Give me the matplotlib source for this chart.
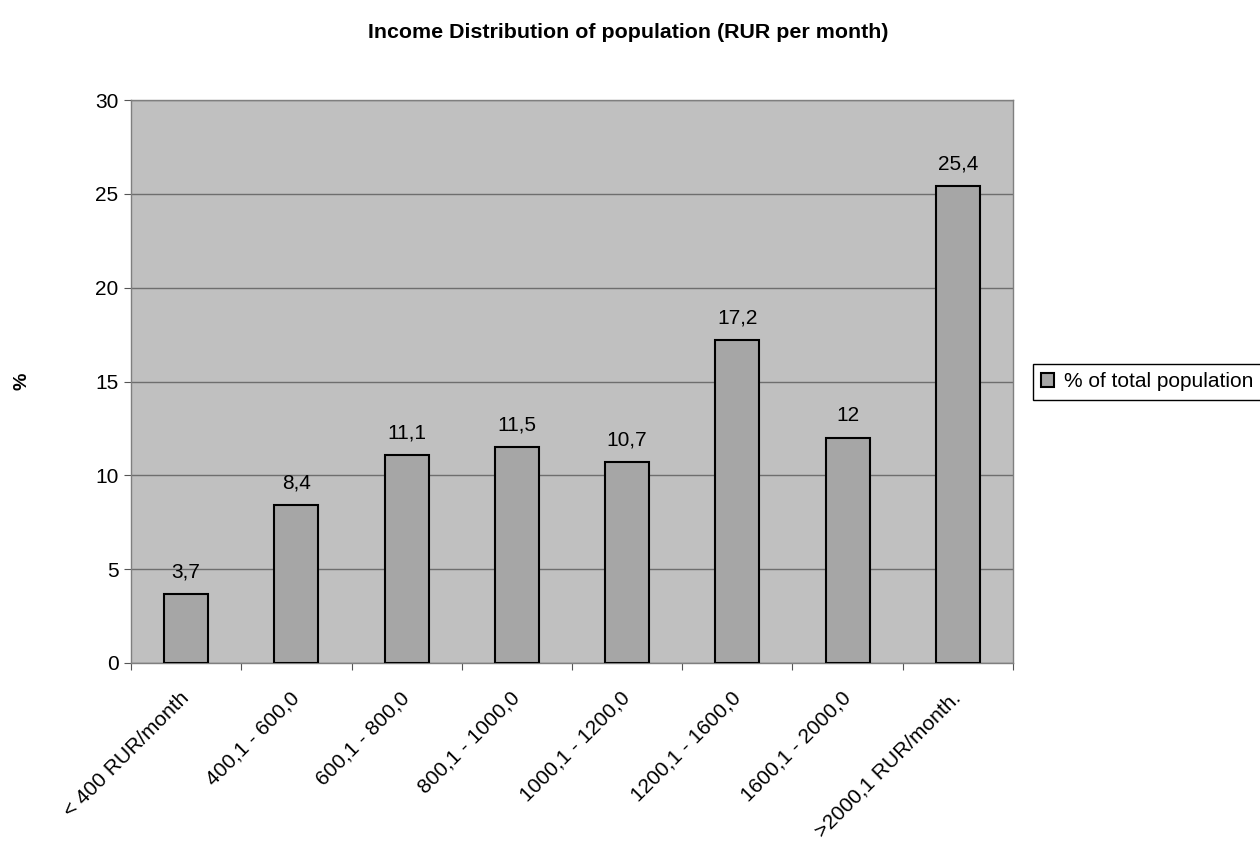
import matplotlib
matplotlib.use("Agg")
import matplotlib.pyplot as plt
from matplotlib.patches import Patch

plt.rcParams['font.family'] = ['Liberation Sans', 'DejaVu Sans']

categories = ["< 400 RUR/month", "400,1 - 600,0", "600,1 - 800,0", "800,1 - 1000,0",
              "1000,1 - 1200,0", "1200,1 - 1600,0", "1600,1 - 2000,0", ">2000,1 RUR/month."]
values = [3.7, 8.4, 11.1, 11.5, 10.7, 17.2, 12, 25.4]
value_labels = ["3,7", "8,4", "11,1", "11,5", "10,7", "17,2", "12", "25,4"]
series_name = "% of total population"

FS = 15

fig = plt.figure(figsize=(12.6, 8.41), dpi=100)
ax = fig.add_axes([131/1260, 1 - 663/841, (1013-131)/1260, (663-100)/841])
ax.set_facecolor("#C0C0C0")

x = list(range(len(categories)))
ax.bar(x, values, width=0.4, color="#A6A6A6", edgecolor="black", linewidth=1.5, zorder=3)
for xi, v, lab in zip(x, values, value_labels):
    ax.annotate(lab, (xi, v), xytext=(0, 9), textcoords="offset points",
                ha="center", va="bottom", fontsize=FS)

ax.set_xlim(-0.5, len(categories) - 0.5)
ax.set_ylim(0, 30)
ax.set_yticks(range(0, 31, 5))
ax.yaxis.grid(True, color="#6E6E6E", linewidth=1, zorder=0)
ax.set_axisbelow(True)

# category boundary ticks, labels at category centres
ax.set_xticks([i - 0.5 for i in range(len(categories) + 1)])
ax.set_xticklabels([])
ax.set_xticks(x, minor=True)
ax.set_xticklabels(categories, minor=True, rotation=45, ha="right", va="center",
                   rotation_mode="anchor", fontsize=FS)
ax.tick_params(axis="x", which="minor", length=0, pad=23)
ax.tick_params(axis="x", which="major", length=5, direction="out", color="#555555")
ax.tick_params(axis="y", length=5, color="#555555", labelsize=FS, pad=4)

for s in ax.spines.values():
    s.set_color("#7F7F7F")
    s.set_linewidth(1)

fig.text(22/1260, 1 - 381/841, "%", rotation=90, ha="center", va="center",
         fontsize=14, fontweight="bold")
fig.text(628/1260, 1 - 32/841, "Income Distribution of population (RUR per month)",
         ha="center", va="center", fontsize=15.4, fontweight="bold")

handle = Patch(facecolor="#A6A6A6", edgecolor="black", linewidth=1.5)
fig.legend([handle], [series_name], loc="upper left",
           bbox_to_anchor=(1033/1260, 1 - 364/841), fontsize=FS,
           frameon=True, fancybox=False, edgecolor="black", framealpha=1,
           handlelength=0.6, handleheight=0.6, handletextpad=0.5,
           borderpad=0.4, borderaxespad=0)

fig.savefig("out.png", dpi=100, facecolor="white")
